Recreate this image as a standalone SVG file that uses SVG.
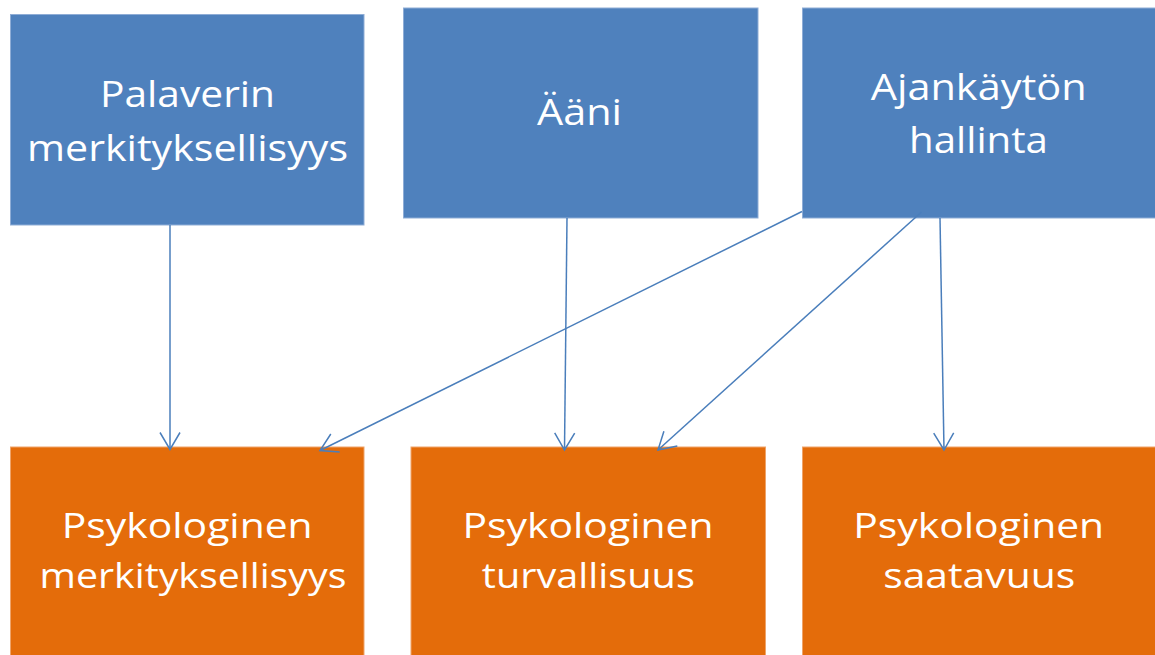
<svg xmlns="http://www.w3.org/2000/svg" width="1155" height="655" viewBox="0 0 1155 655">
  <style>
    .blue { fill: #4F81BD; stroke: #8FADD6; stroke-width: 1; }
    .orange { fill: #E46C0A; stroke: #EFA46A; stroke-width: 1; }
    .lbl { font-family: "Open Sans", "Liberation Sans", sans-serif; fill: #FFFFFF; text-anchor: middle; }
    .top { font-size: 37px; }
    .bot { font-size: 35px; }
    .conn { fill: none; stroke: #4A7EBB; stroke-width: 1.5; }
  </style>
  <defs>
    <marker id="arr" markerUnits="userSpaceOnUse" viewBox="-20 -12 22 24" markerWidth="22" markerHeight="24" refX="0" refY="0" orient="auto">
      <path d="M-17,-10 L0,0 L-17,10" fill="none" stroke="#4A7EBB" stroke-width="1.5"/>
    </marker>
  </defs>
  <rect x="0" y="0" width="1155" height="655" fill="#FFFFFF"/>

  <g id="node-palaverin">
    <rect class="blue" x="10.5" y="14.5" width="353.5" height="210.5"/>
    <text class="lbl top" x="187.5" y="107" textLength="175" lengthAdjust="spacingAndGlyphs">Palaverin</text>
    <text class="lbl top" x="187.5" y="161" textLength="321" lengthAdjust="spacingAndGlyphs">merkityksellisyys</text>
  </g>
  <g id="node-aani">
    <rect class="blue" x="403.5" y="8" width="354.5" height="210"/>
    <text class="lbl top" x="579.5" y="125" textLength="85" lengthAdjust="spacingAndGlyphs">Ääni</text>
  </g>
  <g id="node-ajankaytto">
    <rect class="blue" x="802.5" y="8" width="353" height="210"/>
    <text class="lbl top" x="978.7" y="100" textLength="216" lengthAdjust="spacingAndGlyphs">Ajankäytön</text>
    <text class="lbl top" x="978.5" y="153" textLength="139" lengthAdjust="spacingAndGlyphs">hallinta</text>
  </g>
  <g id="node-psyk-merk">
    <rect class="orange" x="10.5" y="447" width="353.5" height="209"/>
    <text class="lbl bot" x="187.2" y="537.7" textLength="251" lengthAdjust="spacingAndGlyphs">Psykologinen</text>
    <text class="lbl bot" x="193" y="588.3" textLength="307" lengthAdjust="spacingAndGlyphs">merkityksellisyys</text>
  </g>
  <g id="node-psyk-turv">
    <rect class="orange" x="411" y="447" width="354.5" height="209"/>
    <text class="lbl bot" x="588" y="537.7" textLength="251" lengthAdjust="spacingAndGlyphs">Psykologinen</text>
    <text class="lbl bot" x="588.3" y="588.3" textLength="213" lengthAdjust="spacingAndGlyphs">turvallisuus</text>
  </g>
  <g id="node-psyk-saat">
    <rect class="orange" x="802.5" y="447" width="353" height="209"/>
    <text class="lbl bot" x="978.7" y="537.7" textLength="251" lengthAdjust="spacingAndGlyphs">Psykologinen</text>
    <text class="lbl bot" x="979.2" y="588.3" textLength="192" lengthAdjust="spacingAndGlyphs">saatavuus</text>
  </g>

  <g id="connectors">
    <line class="conn" x1="170" y1="225" x2="170" y2="449.5" marker-end="url(#arr)"/>
    <line class="conn" x1="567" y1="218" x2="564.5" y2="450" marker-end="url(#arr)"/>
    <line class="conn" x1="921.5" y1="212" x2="658" y2="450" marker-end="url(#arr)"/>
    <line class="conn" x1="940" y1="218" x2="944" y2="450" marker-end="url(#arr)"/>
    <line class="conn" x1="802" y1="211.5" x2="320" y2="450.5" marker-end="url(#arr)"/>
  </g>
</svg>
